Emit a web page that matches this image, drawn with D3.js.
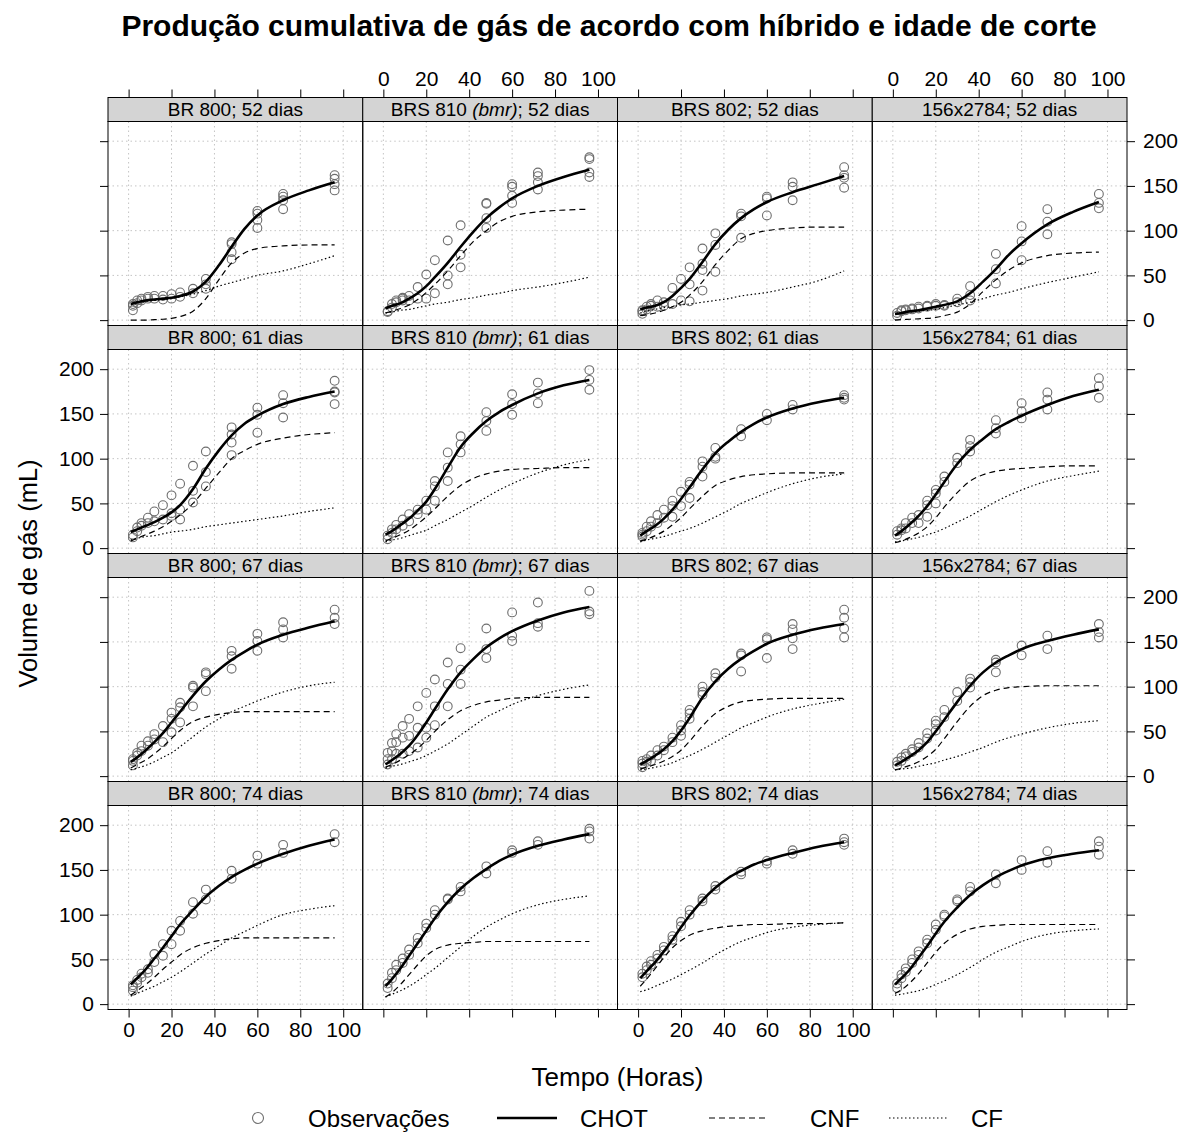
<!DOCTYPE html>
<html>
<head>
<meta charset="utf-8">
<script src="https://cdn.jsdelivr.net/npm/d3@7"></script>
<style>
  body { margin: 0; background: #fff; }
  text { font-family: "Liberation Sans", Arial, sans-serif; }
</style>
</head>
<body>
<script>
const W = 1196, H = 1133;

// panels: rows = cutting age, columns = hybrid
const hybrids = ["BR 800", "BRS 810", "BRS 802", "156x2784"];
const bmr = [false, true, false, false];
const ages = [52, 61, 67, 74];

const xTicks = [0, 20, 40, 60, 80, 100];
const yTicks = [0, 50, 100, 150, 200];

// times (h) where the fitted curves were read, and observation times
const curveTimes = [1, 4, 8, 12, 16, 20, 24, 30, 36, 42, 48, 54, 60, 72, 84, 96];
const obsTimes = [2, 4, 6, 9, 12, 16, 20, 24, 30, 36, 48, 60, 72, 96];

// fitted curves, one row per panel (age 52: BR800, BRS810, BRS802, 156x2784; then 61, 67, 74)
const chot = [
  [18, 20, 22, 23, 24, 25, 27, 32, 43, 61, 82, 102, 117, 134, 145, 154],
  [13, 16, 19, 24, 30, 38, 48, 64, 82, 99, 114, 126, 136, 150, 160, 168],
  [12, 14, 16, 20, 27, 36, 46, 65, 85, 101, 114, 124, 132, 143, 152, 161],
  [7, 8, 10, 11, 13, 15, 17, 21, 30, 43, 57, 73, 86, 107, 121, 132],
  [18, 21, 25, 29, 34, 40, 48, 66, 89, 109, 126, 139, 148, 161, 169, 175],
  [15, 19, 26, 33, 42, 52, 66, 90, 113, 129, 142, 152, 160, 173, 182, 188],
  [14, 19, 25, 33, 43, 55, 68, 88, 106, 119, 130, 139, 146, 156, 163, 168],
  [14, 19, 27, 36, 47, 60, 74, 94, 110, 122, 133, 141, 148, 160, 170, 177],
  [16, 21, 29, 38, 48, 60, 72, 90, 106, 119, 130, 139, 147, 158, 166, 173],
  [13, 18, 25, 34, 46, 60, 75, 97, 116, 131, 144, 154, 162, 174, 183, 189],
  [13, 17, 23, 30, 39, 51, 65, 88, 106, 120, 131, 140, 148, 158, 165, 170],
  [12, 16, 22, 29, 38, 50, 63, 83, 101, 116, 127, 135, 142, 151, 158, 164],
  [22, 29, 39, 51, 63, 76, 89, 105, 120, 132, 142, 150, 157, 168, 177, 184],
  [20, 28, 40, 54, 68, 82, 96, 114, 129, 141, 151, 160, 167, 177, 184, 190],
  [29, 37, 47, 59, 72, 86, 99, 116, 130, 141, 149, 156, 161, 169, 176, 181],
  [22, 29, 39, 52, 65, 79, 92, 108, 122, 133, 142, 149, 155, 163, 168, 172]
];
const cnf = [
  [0, 0, 0, 0.5, 1, 2, 4, 10, 24, 45, 64, 75, 80, 83, 84, 84],
  [8, 10, 13, 17, 23, 31, 40, 55, 72, 88, 100, 110, 116, 121, 123, 124],
  [5, 6, 8, 11, 15, 20, 28, 43, 62, 78, 91, 97, 100, 103, 104, 104],
  [0, 0.5, 1, 1.5, 2, 3, 5, 9, 18, 32, 45, 56, 64, 72, 75, 76],
  [8, 11, 15, 19, 24, 30, 37, 50, 67, 84, 100, 109, 116, 123, 127, 129],
  [8, 11, 15, 20, 27, 35, 44, 58, 70, 78, 83, 86, 88, 89, 90, 90],
  [8, 10, 14, 19, 26, 34, 44, 58, 70, 76, 80, 82, 83, 84, 84, 84],
  [6, 8, 12, 17, 24, 34, 46, 62, 75, 82, 86, 88, 89, 91, 92, 92],
  [9, 13, 18, 25, 33, 42, 51, 61, 66, 69, 71, 72, 72, 72, 72, 72],
  [10, 13, 18, 24, 31, 40, 50, 63, 73, 79, 83, 85, 87, 88, 88, 88],
  [8, 10, 13, 17, 22, 29, 39, 56, 70, 78, 83, 85, 86, 87, 87, 87],
  [7, 9, 12, 16, 22, 30, 42, 61, 78, 90, 96, 99, 100, 101, 101, 101],
  [10, 15, 22, 30, 39, 47, 55, 63, 68, 71, 73, 74, 74, 74, 74, 74],
  [8, 13, 22, 33, 44, 54, 61, 66, 68, 69, 70, 70, 70, 70, 70, 70],
  [20, 28, 40, 52, 63, 71, 77, 82, 85, 87, 88, 89, 89, 90, 90, 91],
  [12, 16, 24, 34, 46, 58, 68, 78, 84, 87, 88, 89, 89, 89, 89, 89]
];
const cf = [
  [17, 19, 21, 22, 23, 24, 26, 29, 33, 38, 42, 46, 50, 55, 63, 72],
  [8, 9, 11, 12, 14, 16, 18, 20, 23, 25, 28, 30, 33, 37, 42, 48],
  [8, 10, 12, 14, 15, 17, 18, 20, 22, 24, 27, 29, 31, 37, 44, 55],
  [7, 8, 9, 10, 11, 12, 14, 17, 20, 24, 28, 31, 35, 42, 48, 54],
  [9, 11, 13, 14, 16, 18, 19, 21, 24, 26, 28, 30, 32, 36, 41, 45],
  [7, 9, 11, 14, 17, 20, 25, 32, 40, 48, 57, 65, 72, 84, 93, 99],
  [7, 9, 11, 13, 16, 19, 22, 28, 35, 42, 50, 56, 62, 72, 79, 83],
  [7, 8, 10, 12, 15, 18, 22, 29, 36, 44, 52, 59, 65, 75, 81, 86],
  [7, 9, 12, 16, 21, 26, 33, 44, 55, 64, 72, 78, 84, 94, 101, 105],
  [9, 11, 13, 16, 19, 23, 28, 36, 46, 56, 66, 73, 80, 90, 97, 102],
  [7, 8, 10, 12, 15, 19, 23, 30, 38, 46, 54, 60, 66, 75, 81, 86],
  [7, 8, 9, 11, 13, 15, 18, 22, 27, 32, 38, 43, 47, 54, 59, 62],
  [9, 12, 16, 20, 25, 30, 36, 46, 56, 65, 74, 81, 88, 100, 106, 110],
  [8, 11, 15, 20, 26, 33, 40, 52, 64, 76, 86, 94, 101, 111, 117, 121],
  [14, 16, 20, 24, 28, 33, 38, 46, 55, 63, 70, 75, 80, 86, 89, 91],
  [10, 11, 13, 15, 18, 22, 26, 33, 41, 50, 58, 64, 70, 78, 82, 84]
];

// observed replicates at each obsTimes entry, one row per panel
const obs = [
  [[11,16,18],[19,22],[22,24],[24,26],[27,24],[27,23],[29,24],[31,26],[35,30],[46,40,35],[87,85,76,68],[122,119,112,103],[141,138,134,124],[162,158,152,145]],
  [[10,9],[18,14],[20,22],[24,22,25],[27,22],[37,24],[51,24],[67,30],[89,50,40],[106,73,59],[131,130,114,103],[152,149,139,131],[165,161,154,146],[182,180,165,160]],
  [[7,10,11],[15,12],[16,18],[22,15],[20,16],[36,18],[46,22],[59,40,21],[80,63,56,33],[97,84,54],[119,116,92],[138,136,117],[154,149,134],[171,162,159,148]],
  [[5,8],[10,11],[11,12],[12,13],[13,15],[15,16],[16,18],[17,16],[24,20],[38,28,22],[74,57,41],[105,88,67],[124,110,96],[141,131,125]],
  [[12,15],[19,23],[25,28],[28,34],[30,41],[32,48],[36,39,59],[32,43,72],[51,64,92],[69,85,108],[104,118,127,135],[129,149,157],[146,162,171],[161,174,175,187]],
  [[10,14],[17,21],[21,26],[25,32],[30,38],[38,43],[43,53],[53,69,75],[75,90,107],[107,116,125],[131,142,152],[149,161,172],[162,173,185],[177,188,199]],
  [[13,17,15],[24,19],[30,24],[37,28],[43,34],[53,47,35],[63,47],[74,71,56],[97,91,80],[112,102,100],[133,125],[150,143],[160,155],[171,168,166]],
  [[15,19],[22,20],[28,22],[34,28],[37,28],[53,48,35],[65,61,50],[80,74],[101,95],[121,114,108],[143,134,128],[162,153,145],[174,166,155],[190,181,168]],
  [[12,17,19],[23,26],[28,34],[34,39],[41,47],[38,56],[49,64,71],[60,77,82],[78,99,101],[95,114,116],[120,134,140],[140,151,159],[155,164,172],[170,177,186]],
  [[13,19,26],[19,28,37],[25,38,47],[25,43,56],[28,45,64],[32,54,78],[43,54,93],[57,78,108],[78,103,127],[103,119,143],[132,142,165],[151,157,183],[167,171,194],[181,184,207]],
  [[10,14,17],[16,19],[23,17],[29,23],[33,29],[43,38],[57,51,45],[74,70,64],[94,100,91],[115,110],[137,135,117],[155,153,132],[170,164,154,142],[186,177,165,155]],
  [[12,16],[17,21],[22,25],[27,30],[32,37],[42,48],[51,58,62],[66,74],[84,94],[99,109,105],[116,127,130],[135,146],[142,157],[155,161,170]],
  [[15,19,21],[24,27],[30,34],[35,39],[47,56],[54,67],[67,82],[82,93],[101,114],[117,128],[140,149],[157,166],[169,178],[181,190]],
  [[18,23],[29,35],[38,44],[46,51],[55,61],[68,74],[85,90],[100,105],[118,117],[131,126],[154,146],[172,169],[182,178],[196,193,185]],
  [[30,34],[38,42],[44,48],[51,55],[60,64],[72,76],[87,92],[100,105],[115,118],[128,132],[145,148],[157,160],[168,172],[181,185,178]],
  [[18,23],[29,33],[36,40],[46,50],[55,59],[68,72],[83,89],[98,100],[115,117],[131,126],[145,135],[161,150],[171,158],[182,176,167]]
];

// layout
const left = 108, right = 1127;
const stripTop0 = 97.5, stripH = 24, panelH = 204, pitch = 228;
const panelW = (right - left) / 4;
const bottom = stripTop0 + 3 * pitch + stripH + panelH;

const svg = d3.select("body").append("svg")
  .attr("width", W).attr("height", H);

svg.append("rect").attr("width", W).attr("height", H).attr("fill", "#fff");

const x = d3.scaleLinear().domain([-9.6, 109.1]).range([0, panelW]);
const y = d3.scaleLinear().domain([-6, 222]).range([panelH, 0]);

const line = d3.line()
  .x((d, i) => x(curveTimes[i]))
  .y(d => y(d))
  .curve(d3.curveMonotoneX);

const styles = [
  { data: cnf, width: 1.2, dash: "6,4" },
  { data: cf, width: 1.2, dash: "1.5,2.5" },
  { data: chot, width: 2.6, dash: null }
];

ages.forEach((age, r) => {
  hybrids.forEach((hyb, c) => {
    const k = r * 4 + c;
    const g = svg.append("g")
      .attr("transform", `translate(${left + c * panelW},${stripTop0 + r * pitch})`);

    // strip
    g.append("rect")
      .attr("width", panelW).attr("height", stripH)
      .attr("fill", "#d4d4d4").attr("stroke", "#000").attr("stroke-width", 1);
    const st = g.append("text")
      .attr("x", panelW / 2).attr("y", stripH / 2)
      .attr("dy", "0.36em")
      .attr("text-anchor", "middle")
      .style("font-size", "19px");
    if (bmr[c]) {
      st.append("tspan").text(hyb + " ");
      st.append("tspan").style("font-style", "italic").text("(bmr)");
      st.append("tspan").text(`; ${age} dias`);
    } else {
      st.text(`${hyb}; ${age} dias`);
    }

    const p = g.append("g").attr("transform", `translate(0,${stripH})`);

    // dotted reference grid
    p.selectAll("line.gx").data(xTicks).enter().append("line")
      .attr("x1", d => x(d)).attr("x2", d => x(d))
      .attr("y1", 0).attr("y2", panelH)
      .attr("stroke", "#c4c4c4").attr("stroke-dasharray", "1.5,3");
    p.selectAll("line.gy").data(yTicks).enter().append("line")
      .attr("x1", 0).attr("x2", panelW)
      .attr("y1", d => y(d)).attr("y2", d => y(d))
      .attr("stroke", "#c4c4c4").attr("stroke-dasharray", "1.5,3");

    // observations
    const pts = [];
    obs[k].forEach((reps, i) => reps.forEach(v => pts.push([obsTimes[i], v])));
    p.selectAll("circle").data(pts).enter().append("circle")
      .attr("cx", d => x(d[0])).attr("cy", d => y(d[1]))
      .attr("r", 4.4)
      .attr("fill", "none").attr("stroke", "#6e6e6e").attr("stroke-width", 1.1);

    // fitted curves
    styles.forEach(s => {
      p.append("path")
        .attr("d", line(s.data[k]))
        .attr("fill", "none").attr("stroke", "#000")
        .attr("stroke-width", s.width)
        .attr("stroke-dasharray", s.dash);
    });

    p.append("rect")
      .attr("width", panelW).attr("height", panelH)
      .attr("fill", "none").attr("stroke", "#000").attr("stroke-width", 1);
  });
});

// axes (alternating labels like lattice)
function styleAxis(a) {
  a.select(".domain").remove();
  a.selectAll("line").attr("stroke", "#000");
  a.selectAll("text").style("font-size", "21px")
    .style("font-family", "'Liberation Sans', Arial, sans-serif").attr("fill", "#000");
}
const blank = () => "";

ages.forEach((age, r) => {
  const top = stripTop0 + r * pitch + stripH;
  svg.append("g").attr("transform", `translate(${left},${top})`)
    .call(d3.axisLeft(y).tickValues(yTicks).tickSize(8).tickPadding(6)
      .tickFormat(r % 2 === 1 ? d3.format("d") : blank))
    .call(styleAxis);
  svg.append("g").attr("transform", `translate(${right},${top})`)
    .call(d3.axisRight(y).tickValues(yTicks).tickSize(8).tickPadding(8)
      .tickFormat(r % 2 === 0 ? d3.format("d") : blank))
    .call(styleAxis);
});

hybrids.forEach((h, c) => {
  const x0 = left + c * panelW;
  svg.append("g").attr("transform", `translate(${x0},${stripTop0})`)
    .call(d3.axisTop(x).tickValues(xTicks).tickSize(8).tickPadding(4)
      .tickFormat(c % 2 === 1 ? d3.format("d") : blank))
    .call(styleAxis);
  svg.append("g").attr("transform", `translate(${x0},${bottom})`)
    .call(d3.axisBottom(x).tickValues(xTicks).tickSize(8).tickPadding(5)
      .tickFormat(c % 2 === 0 ? d3.format("d") : blank))
    .call(styleAxis);
});

// titles
svg.append("text")
  .attr("x", 609).attr("y", 36)
  .attr("text-anchor", "middle")
  .style("font-size", "30px").style("font-weight", "bold")
  .text("Produção cumulativa de gás de acordo com híbrido e idade de corte");

svg.append("text")
  .attr("x", (left + right) / 2).attr("y", 1086)
  .attr("text-anchor", "middle")
  .style("font-size", "26px")
  .text("Tempo (Horas)");

svg.append("text")
  .attr("transform", `translate(37,${(stripTop0 + stripH + bottom) / 2 + 8}) rotate(-90)`)
  .attr("text-anchor", "middle")
  .style("font-size", "25.5px")
  .text("Volume de gás (mL)");

// legend
const ly = 1118;
const legend = svg.append("g");
legend.append("circle").attr("cx", 258).attr("cy", ly).attr("r", 5.5)
  .attr("fill", "none").attr("stroke", "#6e6e6e").attr("stroke-width", 1.1);
const legItems = [
  { x1: 497, x2: 557, w: 2.6, dash: null },
  { x1: 709, x2: 767, w: 1.2, dash: "6,4" },
  { x1: 889, x2: 947, w: 1.2, dash: "1.5,2.5" }
];
legItems.forEach(d => {
  legend.append("line").attr("x1", d.x1).attr("x2", d.x2)
    .attr("y1", ly).attr("y2", ly)
    .attr("stroke", "#000").attr("stroke-width", d.w)
    .attr("stroke-dasharray", d.dash);
});
const legLabels = [["Observações", 308], ["CHOT", 580], ["CNF", 810], ["CF", 971]];
legLabels.forEach(([t, lx]) => {
  legend.append("text").attr("x", lx).attr("y", ly).attr("dy", "0.36em")
    .style("font-size", "24px").text(t);
});
</script>
</body>
</html>
